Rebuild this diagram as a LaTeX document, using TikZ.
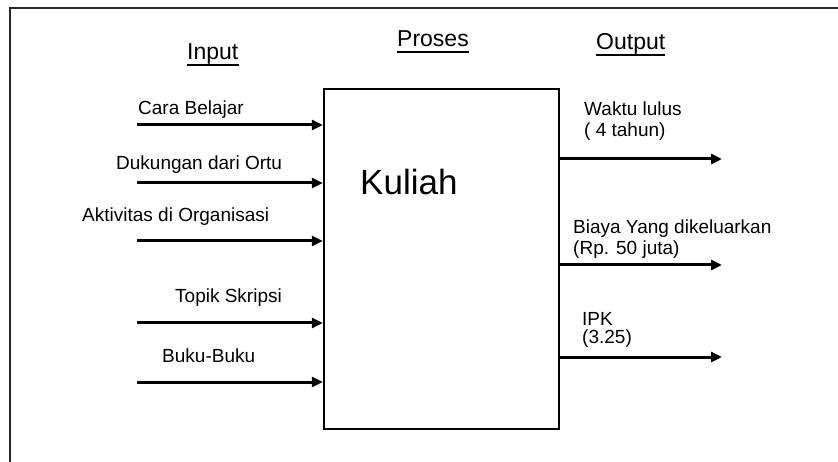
\documentclass[tikz,border=0pt]{standalone}
\usepackage{fontspec}
\setmainfont{Liberation Sans}
\usepackage{tikz}
\usetikzlibrary{arrows.meta}
\tikzset{
  frame line/.style={draw,line width=2.5pt,black!85},
  process box/.style={draw,line width=2.4pt,minimum width=235pt,minimum height=340pt,inner sep=0pt},
  flow arrow/.style={line width=3pt,-{Triangle[length=11pt,width=10pt]}},
  head text/.style={anchor=base west,inner sep=0pt,font=\fontsize{23}{27}\selectfont},
  head rule/.style={line width=2pt},
  flow text/.style={anchor=base west,inner sep=0pt,font=\fontsize{19}{21.5}\selectfont,align=left},
  big text/.style={anchor=base west,inner sep=0pt,font=\fontsize{35}{40}\selectfont},
}

\begin{document}
\begin{tikzpicture}[x=1pt,y=-1pt]
\useasboundingbox (0,0) rectangle (838,462);
\draw[frame line] (838,8) -- (10,8) -- (10,462);
\node[process box] (proses) at (441.5,259) {};
\node[big text] (kuliah) at (360,195) {Kuliah};
\node[head text] (input) at (187,60) {Input};
\node[head text] (prosestitle) at (397,47) {Proses};
\node[head text] (output) at (596,50) {Output};
\foreach \n in {input,prosestitle,output}
  \draw[head rule] ([yshift=-5.5pt]\n.base west) -- ([yshift=-5.5pt]\n.base east);
\node[flow text] (cara) at (138,115) {Cara Belajar};
\node[flow text] (dukungan) at (116,170) {Dukungan dari Ortu};
\node[flow text] (aktivitas) at (82,222) {Aktivitas di Organisasi};
\node[flow text] (topik) at (175,303) {Topik Skripsi};
\node[flow text] (buku) at (162,362) {Buku-Buku};
\node[flow text] (waktu) at (584,137) {Waktu lulus\\( 4 tahun)};
\node[flow text] (biaya) at (573,255) {Biaya Yang dikeluarkan\\(Rp. 50 juta)};
\node[flow text] (ipk) at (582,343) {IPK\\[-4pt](3.25)};
\foreach \y [count=\i] in {125,183,241,323,382}
  \coordinate (in\i) at (137,\y);
\foreach \y [count=\i] in {159,265,357}
  \coordinate (out\i) at (722,\y);
\foreach \i in {1,...,5}
  \draw[flow arrow] (in\i) -- (in\i -| proses.west);
\foreach \i in {1,2,3}
  \draw[flow arrow] (out\i -| proses.east) -- (out\i);
\end{tikzpicture}
\end{document}
